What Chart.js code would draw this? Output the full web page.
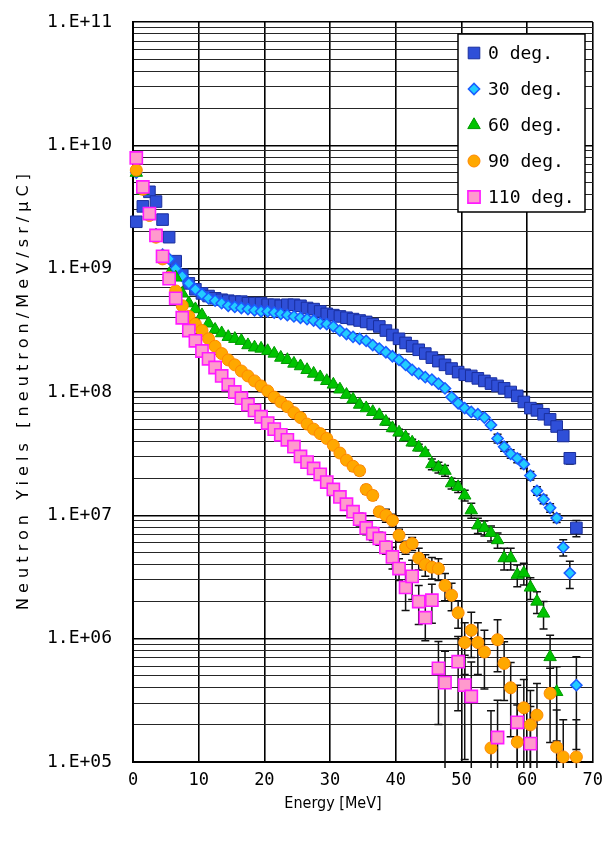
<!DOCTYPE html>
<html>
<head>
<meta charset="utf-8">
<title>Neutron yields</title>
<script src="https://cdn.jsdelivr.net/npm/chart.js@4/dist/chart.umd.min.js"></script>
<style>
  html, body { margin: 0; padding: 0; background: #fff; }
  #wrap { width: 603px; height: 843px; }
</style>
</head>
<body>
<div id="wrap"><canvas id="chart" width="603" height="843"></canvas></div>
<script>
// Energy bin centres [MeV]
const energies = [
  0.5, 1.5, 2.5, 3.5, 4.5, 5.5, 6.5, 7.5, 8.5, 9.5,
  10.5, 11.5, 12.5, 13.5, 14.5, 15.5, 16.5, 17.5, 18.5, 19.5,
  20.5, 21.5, 22.5, 23.5, 24.5, 25.5, 26.5, 27.5, 28.5, 29.5,
  30.5, 31.5, 32.5, 33.5, 34.5, 35.5, 36.5, 37.5, 38.5, 39.5,
  40.5, 41.5, 42.5, 43.5, 44.5, 45.5, 46.5, 47.5, 48.5, 49.5,
  50.5, 51.5, 52.5, 53.5, 54.5, 55.5, 56.5, 57.5, 58.5, 59.5,
  60.5, 61.5, 62.5, 63.5, 64.5, 65.5, 66.5, 67.5
];

// Neutron yields [neutron/MeV/sr/uC] per emission angle
const yield0 = [
  2.4e9, 3.2e9, 4.2e9, 3.5e9, 2.5e9, 1.8e9, 1.15e9, 8.9e8, 7.6e8, 6.8e8,
  6.3e8, 6.0e8, 5.75e8, 5.6e8, 5.5e8, 5.4e8, 5.4e8, 5.25e8, 5.25e8, 5.25e8,
  5.1e8, 5.1e8, 5.0e8, 5.1e8, 5.1e8, 5.0e8, 4.8e8, 4.7e8, 4.5e8, 4.3e8,
  4.2e8, 4.1e8, 4.0e8, 3.9e8, 3.8e8, 3.7e8, 3.55e8, 3.4e8, 3.15e8, 2.9e8,
  2.7e8, 2.5e8, 2.35e8, 2.2e8, 2.05e8, 1.9e8, 1.78e8, 1.66e8, 1.55e8, 1.45e8,
  1.38e8, 1.35e8, 1.29e8, 1.23e8, 1.17e8, 1.12e8, 1.07e8, 1.0e8, 9.3e7, 8.3e7,
  7.4e7, 7.1e7, 6.6e7, 6.0e7, 5.25e7, 4.4e7, 2.9e7, 7.9e6
];
const yield30 = [
  6.0e9, 4.4e9, 2.8e9, 1.9e9, 1.3e9, 1.2e9, 1.0e9, 8.7e8, 7.6e8, 6.8e8,
  6.2e8, 5.75e8, 5.5e8, 5.25e8, 5.0e8, 4.9e8, 4.8e8, 4.7e8, 4.6e8, 4.5e8,
  4.5e8, 4.4e8, 4.3e8, 4.2e8, 4.1e8, 4.0e8, 3.9e8, 3.8e8, 3.6e8, 3.55e8,
  3.4e8, 3.15e8, 2.95e8, 2.8e8, 2.7e8, 2.6e8, 2.4e8, 2.25e8, 2.1e8, 1.95e8,
  1.82e8, 1.66e8, 1.51e8, 1.41e8, 1.32e8, 1.26e8, 1.17e8, 1.07e8, 9.1e7, 8.1e7,
  7.4e7, 6.9e7, 6.6e7, 6.2e7, 5.4e7, 4.2e7, 3.6e7, 3.15e7, 2.9e7, 2.6e7,
  2.1e7, 1.58e7, 1.35e7, 1.15e7, 9.5e6, 5.5e6, 3.4e6, 4.2e5
];
const yield60 = [
  6.0e9, 4.3e9, 2.75e9, 1.85e9, 1.25e9, 9.0e8, 8.5e8, 6.3e8, 5.25e8, 4.7e8,
  4.2e8, 3.6e8, 3.2e8, 3.0e8, 2.8e8, 2.7e8, 2.6e8, 2.4e8, 2.3e8, 2.25e8,
  2.15e8, 2.05e8, 1.9e8, 1.82e8, 1.7e8, 1.62e8, 1.51e8, 1.41e8, 1.32e8, 1.23e8,
  1.15e8, 1.05e8, 9.5e7, 8.7e7, 7.9e7, 7.4e7, 6.9e7, 6.5e7, 5.75e7, 5.1e7,
  4.7e7, 4.3e7, 3.9e7, 3.55e7, 3.2e7, 2.6e7, 2.45e7, 2.3e7, 1.82e7, 1.7e7,
  1.45e7, 1.1e7, 8.3e6, 7.9e6, 7.2e6, 6.3e6, 4.5e6, 4.5e6, 3.3e6, 3.4e6,
  2.6e6, 2.0e6, 1.6e6, 7.1e5, 3.7e5, null, null, null
];
const yield90 = [
  6.3e9, 4.4e9, 2.7e9, 1.8e9, 1.2e9, 8.5e8, 6.6e8, 5.0e8, 4.1e8, 3.55e8,
  3.15e8, 2.7e8, 2.35e8, 2.05e8, 1.82e8, 1.66e8, 1.48e8, 1.35e8, 1.23e8, 1.12e8,
  1.02e8, 9.1e7, 8.3e7, 7.6e7, 6.8e7, 6.2e7, 5.5e7, 5.0e7, 4.6e7, 4.2e7,
  3.7e7, 3.2e7, 2.8e7, 2.5e7, 2.3e7, 1.62e7, 1.45e7, 1.07e7, 1.0e7, 9.1e6,
  6.9e6, 5.5e6, 5.9e6, 4.5e6, 4.0e6, 3.8e6, 3.7e6, 2.7e6, 2.25e6, 1.62e6,
  9.3e5, 1.17e6, 9.3e5, 7.8e5, 1.3e5, 9.8e5, 6.3e5, 4.0e5, 1.45e5, 2.75e5,
  2.0e5, 2.4e5, null, 3.6e5, 1.32e5, 1.1e5, null, 1.1e5
];
const yield110 = [
  7.9e9, 4.6e9, 2.8e9, 1.86e9, 1.26e9, 8.3e8, 5.75e8, 4.0e8, 3.15e8, 2.6e8,
  2.15e8, 1.86e8, 1.58e8, 1.35e8, 1.15e8, 1.0e8, 8.9e7, 7.9e7, 7.1e7, 6.3e7,
  5.6e7, 5.0e7, 4.5e7, 4.1e7, 3.6e7, 3.0e7, 2.7e7, 2.4e7, 2.15e7, 1.86e7,
  1.62e7, 1.41e7, 1.23e7, 1.07e7, 9.3e6, 7.9e6, 7.1e6, 6.5e6, 5.5e6, 4.6e6,
  3.7e6, 2.6e6, 3.2e6, 2.0e6, 1.48e6, 2.05e6, 5.75e5, 4.4e5, null, 6.5e5,
  4.2e5, 3.4e5, null, null, null, 1.58e5, null, null, 2.1e5, null,
  1.41e5, null, null, null, null, null, null, null
];

// Relative statistical errors (fraction of the yield)
const err0 = [
  0, 0, 0, 0, 0, 0, 0, 0, 0, 0,
  0, 0, 0, 0, 0, 0, 0, 0, 0, 0,
  0, 0, 0, 0, 0, 0, 0, 0, 0, 0,
  0, 0, 0, 0, 0, 0, 0, 0, 0, 0,
  0, 0, 0, 0, 0, 0, 0, 0, 0, 0,
  0, 0, 0, 0, 0, 0, 0, 0, 0, 0,
  0, 0, 0, 0, 0, 0, 0.1, 0.15
];
const err30 = [
  0, 0, 0, 0, 0, 0, 0, 0, 0, 0,
  0, 0, 0, 0, 0, 0, 0, 0, 0, 0,
  0, 0, 0, 0, 0, 0, 0, 0, 0, 0,
  0, 0, 0, 0, 0, 0, 0, 0, 0, 0,
  0, 0, 0, 0, 0, 0, 0, 0, 0, 0,
  0, 0, 0, 0, 0, 0.08, 0.08, 0.08, 0.08, 0.08,
  0.08, 0.08, 0.08, 0.08, 0.08, 0.15, 0.25, 0.7
];
const err60 = [
  0, 0, 0, 0, 0, 0, 0, 0, 0, 0,
  0, 0, 0, 0, 0, 0, 0, 0, 0, 0,
  0, 0, 0, 0, 0, 0, 0, 0, 0, 0,
  0, 0, 0, 0, 0, 0, 0, 0, 0.06, 0.06,
  0.06, 0.06, 0.06, 0.06, 0.06, 0.1, 0.1, 0.1, 0.1, 0.1,
  0.1, 0.14, 0.14, 0.14, 0.14, 0.14, 0.2, 0.2, 0.2, 0.2,
  0.2, 0.2, 0.25, 0.5, 0.6, 0, 0, 0
];
const err90 = [
  0, 0, 0, 0, 0, 0, 0, 0, 0, 0,
  0, 0, 0, 0, 0, 0, 0, 0, 0, 0,
  0, 0, 0, 0, 0, 0, 0, 0, 0, 0,
  0, 0, 0, 0.08, 0.08, 0.08, 0.08, 0.08, 0.12, 0.12,
  0.12, 0.12, 0.12, 0.2, 0.2, 0.2, 0.2, 0.25, 0.25, 0.25,
  0.45, 0.4, 0.45, 0.5, 1, 0.45, 0.5, 0.6, 1, 0.7,
  0.9, 0.8, 0, 0.6, 1, 1, 0, 1
];
const err110 = [
  0, 0, 0, 0, 0, 0, 0, 0, 0, 0,
  0, 0, 0, 0, 0, 0, 0, 0, 0, 0,
  0, 0, 0, 0, 0, 0, 0, 0, 0, 0.08,
  0.08, 0.08, 0.08, 0.08, 0.12, 0.12, 0.12, 0.12, 0.12, 0.2,
  0.2, 0.35, 0.35, 0.35, 0.35, 0.35, 0.65, 0.8, 0, 0.6,
  0.75, 0.9, 0, 0, 0, 1, 0, 0, 1, 0,
  1, 0, 0, 0, 0, 0, 0, 0
];

const seriesLabels = ['0 deg.', '30 deg.', '60 deg.', '90 deg.', '110 deg.'];

// Axis ticks
const xTickValues = [0, 10, 20, 30, 40, 50, 60, 70];
const yMajorTicks = [1e5, 1e6, 1e7, 1e8, 1e9, 1e10, 1e11];
const yTickLabels = ['1.E+05', '1.E+06', '1.E+07', '1.E+08', '1.E+09', '1.E+10', '1.E+11'];
const yMinorSteps = [2, 3, 4, 5, 6, 7, 8, 9];

const xTitle = 'Energy [MeV]';
const yTitle = 'Neutron Yiels [neutron/MeV/sr/\u03bcC]';

const toPoints = vals => energies.map((e, i) => ({ x: e, y: vals[i] }));

const styles = [
  { pointStyle: 'rect',     radius: 8.2, fill: '#2f4fd8', stroke: '#1a2f9e', bw: 1 },
  { pointStyle: 'rectRot',  radius: 5.6, fill: '#22ccff', stroke: '#1a5cff', bw: 1.5 },
  { pointStyle: 'triangle', radius: 7.2, fill: '#00c400', stroke: '#009a00', bw: 1 },
  { pointStyle: 'circle',   radius: 6,   fill: '#ffa800', stroke: '#ff8800', bw: 1 },
  { pointStyle: 'rect',     radius: 8.6, fill: '#ff9acd', stroke: '#ff1aff', bw: 1.6 }
];
const seriesValues = [yield0, yield30, yield60, yield90, yield110];
const seriesErrors = [err0, err30, err60, err90, err110];

const datasets = seriesValues.map((vals, k) => ({
  label: seriesLabels[k],
  data: toPoints(vals),
  errors: seriesErrors[k],
  pointStyle: styles[k].pointStyle,
  pointRadius: styles[k].radius,
  pointHoverRadius: styles[k].radius,
  backgroundColor: styles[k].fill,
  borderColor: styles[k].stroke,
  pointBorderWidth: styles[k].bw,
  borderWidth: styles[k].bw,
  showLine: false,
  order: seriesValues.length - k,   // later angles are painted on top
  clip: 12
}));

// Vertical error bars with caps, painted beneath the markers
const errorBars = {
  id: 'errorBars',
  beforeDatasetsDraw(chart) {
    const { ctx, chartArea, scales } = chart;
    const y = scales.y;
    const floor = chartArea.bottom + 6;
    ctx.save();
    ctx.strokeStyle = '#111';
    ctx.lineWidth = 1.5;
    chart.data.datasets.forEach((ds, di) => {
      const meta = chart.getDatasetMeta(di);
      meta.data.forEach((el, i) => {
        const v = ds.data[i].y;
        const r = ds.errors[i];
        if (v == null || !r) return;
        const px = el.x;
        const top = y.getPixelForValue(v * (1 + r));
        const bot = r >= 1 ? floor : Math.min(floor, y.getPixelForValue(v * (1 - r)));
        ctx.beginPath();
        ctx.moveTo(px, top); ctx.lineTo(px, bot);
        ctx.moveTo(px - 4, top); ctx.lineTo(px + 4, top);
        if (bot < floor) { ctx.moveTo(px - 4, bot); ctx.lineTo(px + 4, bot); }
        ctx.stroke();
      });
    });
    ctx.restore();
  }
};

function drawMarker(ctx, st, x, y) {
  const r = st.radius;
  ctx.beginPath();
  if (st.pointStyle === 'rect') {
    const s = r * Math.SQRT1_2;
    ctx.rect(x - s, y - s, 2 * s, 2 * s);
  } else if (st.pointStyle === 'rectRot') {
    ctx.moveTo(x - r, y); ctx.lineTo(x, y - r); ctx.lineTo(x + r, y); ctx.lineTo(x, y + r); ctx.closePath();
  } else if (st.pointStyle === 'triangle') {
    const h = r * Math.sin(Math.PI / 3);
    ctx.moveTo(x, y - r);
    ctx.lineTo(x + h, y + r * 0.5);
    ctx.lineTo(x - h, y + r * 0.5);
    ctx.closePath();
  } else {
    ctx.arc(x, y, r, 0, Math.PI * 2);
  }
  ctx.fillStyle = st.fill;
  ctx.fill();
  ctx.lineWidth = st.bw;
  ctx.strokeStyle = st.stroke;
  ctx.stroke();
}

// Boxed legend in the upper right of the plot, plus the two axis titles
const overlay = {
  id: 'overlay',
  afterDraw(chart) {
    const ctx = chart.ctx;
    const box = { x: 458, y: 34, w: 127, h: 178 };
    ctx.save();
    ctx.fillStyle = '#fff';
    ctx.fillRect(box.x, box.y, box.w, box.h);
    ctx.strokeStyle = '#000';
    ctx.lineWidth = 1.5;
    ctx.strokeRect(box.x, box.y, box.w, box.h);
    ctx.font = '18px "DejaVu Sans Mono"';
    ctx.textBaseline = 'middle';
    ctx.textAlign = 'left';
    seriesLabels.forEach((lab, k) => {
      const cy = box.y + 19 + k * 36;
      drawMarker(ctx, styles[k], box.x + 16, cy);
      ctx.fillStyle = '#000';
      ctx.fillText(lab, box.x + 30, cy + 1);
    });

    // x title
    ctx.font = '16px "DejaVu Sans Condensed", "DejaVu Sans"';
    ctx.textAlign = 'center';
    ctx.fillStyle = '#000';
    ctx.fillText(xTitle, 333, 804);

    // y title, letter-spaced along the axis
    ctx.translate(24, 392);
    ctx.rotate(-Math.PI / 2);
    ctx.font = '16px "DejaVu Sans"';
    const chars = [...yTitle];
    const plain = ctx.measureText(yTitle).width;
    const gap = Math.max(0, (436 - plain) / (chars.length - 1));
    ctx.letterSpacing = gap.toFixed(2) + 'px';
    ctx.textAlign = 'left';
    const full = plain + gap * (chars.length - 1);
    ctx.fillText(yTitle, -full / 2, 0);
    ctx.restore();
  }
};

const isMajor = v => yMajorTicks.some(m => Math.abs(m - v) / m < 1e-9);

new Chart(document.getElementById('chart'), {
  type: 'scatter',
  data: { datasets },
  options: {
    responsive: false,
    animation: false,
    devicePixelRatio: 1,
    layout: { padding: { top: 22, right: 8, left: 0, bottom: 0 } },
    plugins: {
      legend: { display: false },
      tooltip: { enabled: false }
    },
    scales: {
      x: {
        type: 'linear',
        min: 0,
        max: 70,
        afterBuildTicks: s => { s.ticks = xTickValues.map(v => ({ value: v })); },
        afterFit: s => { s.height = 81; s.paddingLeft = 0; s.paddingRight = 0; },
        ticks: {
          autoSkip: false,
          maxRotation: 0,
          padding: 8,
          color: '#000',
          font: { family: '"DejaVu Sans Mono"', size: 17 },
          callback: v => String(v)
        },
        grid: { color: '#000', lineWidth: 1.6, drawTicks: false },
        border: { display: true, color: '#000', width: 2 }
      },
      y: {
        type: 'logarithmic',
        min: 1e5,
        max: 1e11,
        afterBuildTicks: s => {
          const t = [];
          yMajorTicks.forEach((m, k) => {
            t.push({ value: m });
            if (k < yMajorTicks.length - 1) yMinorSteps.forEach(f => t.push({ value: m * f }));
          });
          s.ticks = t;
        },
        afterFit: s => { s.width = 133; s.paddingTop = 0; s.paddingBottom = 0; },
        ticks: {
          autoSkip: false,
          padding: 21,
          color: '#000',
          font: { family: '"DejaVu Sans Mono"', size: 18 },
          callback: v => {
            const k = yMajorTicks.findIndex(m => Math.abs(m - v) / m < 1e-9);
            return k >= 0 ? yTickLabels[k] : '';
          }
        },
        grid: {
          drawTicks: false,
          color: c => (c.tick && isMajor(c.tick.value)) ? '#000' : '#262626',
          lineWidth: c => (c.tick && isMajor(c.tick.value)) ? 1.6 : 1
        },
        border: { display: true, color: '#000', width: 2 }
      }
    }
  },
  plugins: [errorBars, overlay]
});
</script>
</body>
</html>
